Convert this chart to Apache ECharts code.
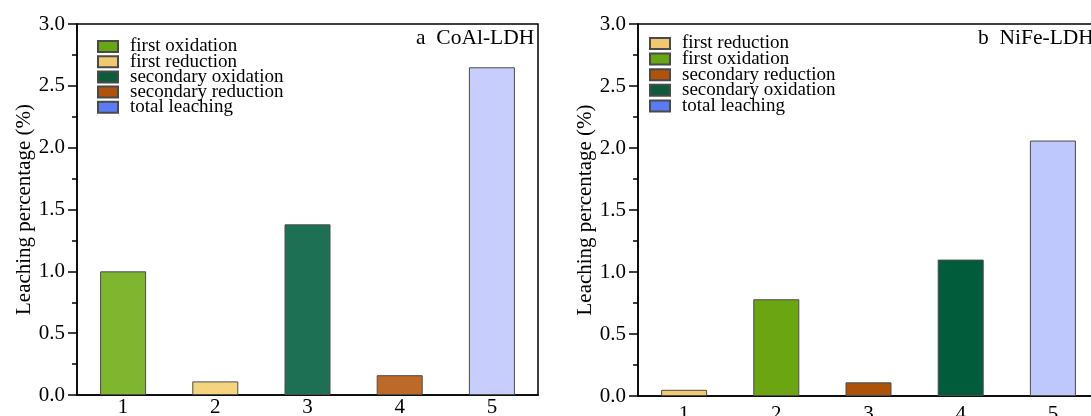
<!DOCTYPE html>
<html>
<head>
<meta charset="utf-8">
<script src="https://cdn.jsdelivr.net/npm/echarts@6/dist/echarts.min.js"></script>
<style>
html,body{margin:0;padding:0;background:#fff;}
#chart{width:1091px;height:416px;}
</style>
</head>
<body>
<div id="chart"></div>
<script>
const categories = ['1', '2', '3', '4', '5'];
const leftNames = ['first oxidation', 'first reduction', 'secondary oxidation', 'secondary reduction', 'total leaching'];
const leftValues = [1.00, 0.11, 1.38, 0.16, 2.65];
const rightNames = ['first reduction', 'first oxidation', 'secondary reduction', 'secondary oxidation', 'total leaching'];
const rightValues = [0.05, 0.78, 0.11, 1.10, 2.06];
const leftTitle = 'a  CoAl-LDH';
const rightTitle = 'b  NiFe-LDH';
const yName = 'Leaching percentage (%)';

// colours
const legendColors = {
  'first oxidation': '#69a615',
  'first reduction': '#f0c870',
  'secondary oxidation': '#0a5c3b',
  'secondary reduction': '#b0520b',
  'total leaching': '#5b7bf2'
};
const leftBarColors = ['#80b530', '#f5d47f', '#1e7055', '#bd6928', '#c8cefc'];
const rightBarColors = ['#f2c96e', '#6ba512', '#ad5209', '#005c3a', '#bfc8fd'];

const FONT = "'Liberation Serif', 'Times New Roman', serif";

function makeSeries(names, values, barColors, idx) {
  return names.map((name, i) => ({
    name: name,
    type: 'bar',
    xAxisIndex: idx,
    yAxisIndex: idx,
    stack: 'g' + idx,
    barWidth: 46,
    itemStyle: { color: legendColors[name], borderColor: '#4a4a4a', borderWidth: 1 },
    emphasis: { disabled: true },
    data: categories.map((c, j) => j === i ? { value: values[i], itemStyle: { color: barColors[i] } } : '-')
  }));
}

function xAxis(idx, margin) {
  return {
    type: 'category', gridIndex: idx, data: categories, boundaryGap: true,
    axisLine: { lineStyle: { color: '#000', width: 1.5 } },
    axisTick: { show: false },
    axisLabel: { color: '#000', fontFamily: FONT, fontSize: 21, margin: margin }
  };
}
function yAxis(idx) {
  return {
    type: 'value', gridIndex: idx, min: 0, max: 3, interval: 0.5,
    name: yName, nameLocation: 'middle', nameGap: 42,
    nameTextStyle: { color: '#000', fontFamily: FONT, fontSize: 21 },
    axisLine: { show: true, lineStyle: { color: '#000', width: 1.5 } },
    axisTick: { show: true, length: 9, lineStyle: { color: '#000', width: 1.5 } },
    minorTick: { show: true, splitNumber: 2, length: 5, lineStyle: { color: '#000', width: 1.5 } },
    splitLine: { show: false },
    axisLabel: { color: '#000', fontFamily: FONT, fontSize: 21, margin: 12, formatter: v => v.toFixed(1) }
  };
}
function legend(names, left, top, gap) {
  return {
    data: names, left: left, top: top, orient: 'vertical',
    itemWidth: 20, itemHeight: 11, itemGap: gap,
    icon: 'rect', selectedMode: false,
    textStyle: { color: '#000', fontFamily: FONT, fontSize: 19, padding: [0, 0, 0, 7] },
    padding: 0
  };
}

const chart = echarts.init(document.getElementById('chart'), null, { renderer: 'canvas' });
chart.setOption({
  animation: false,
  backgroundColor: '#fff',
  title: [
    { text: leftTitle, left: 416, top: 27, padding: 0, textStyle: { color: '#000', fontFamily: FONT, fontSize: 21.5, fontWeight: 'normal' } },
    { text: rightTitle, left: 978, top: 27, padding: 0, textStyle: { color: '#000', fontFamily: FONT, fontSize: 21.5, fontWeight: 'normal' } }
  ],
  legend: [legend(leftNames, 97, 37, -3.8), legend(rightNames, 649, 34, -3.4)],
  grid: [
    { left: 77, top: 24, width: 461, height: 371, outerBoundsMode: 'none', containLabel: false, show: true, borderColor: '#000', borderWidth: 1.5, backgroundColor: 'transparent' },
    { left: 638, top: 24, width: 461, height: 372, outerBoundsMode: 'none', containLabel: false, show: true, borderColor: '#000', borderWidth: 1.5, backgroundColor: 'transparent' }
  ],
  xAxis: [xAxis(0, 2), xAxis(1, 8)],
  yAxis: [yAxis(0), yAxis(1)],
  series: makeSeries(leftNames, leftValues, leftBarColors, 0).concat(makeSeries(rightNames, rightValues, rightBarColors, 1))
});
</script>
</body>
</html>
